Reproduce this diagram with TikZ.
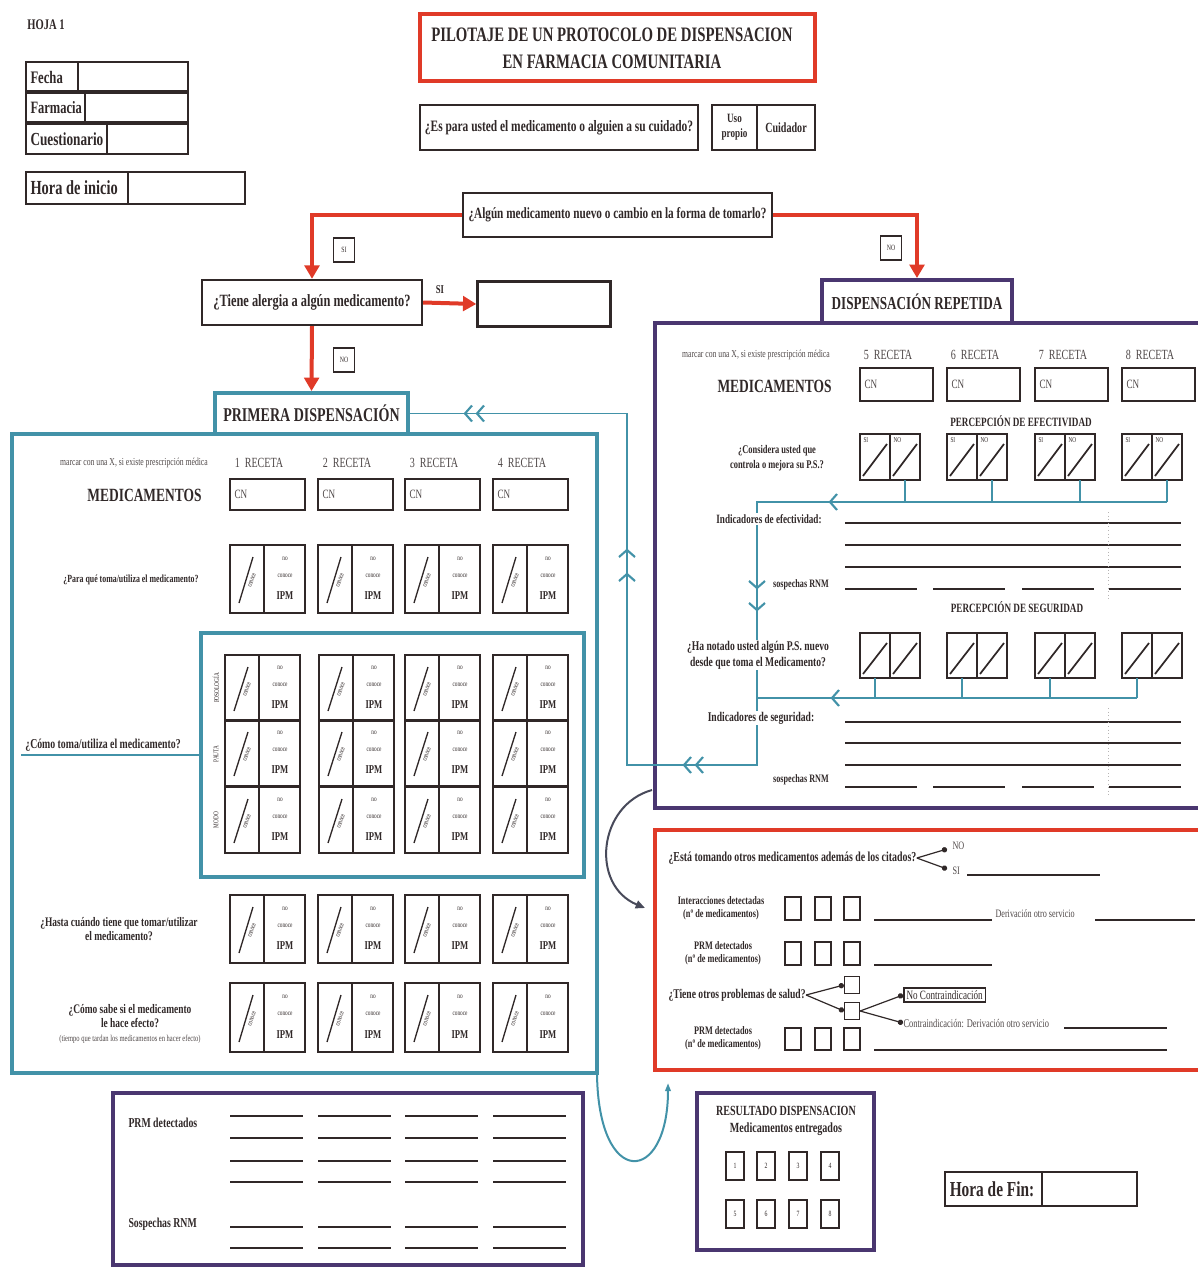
\documentclass[tikz,border=0pt]{standalone}
\usepackage{fontspec}
\setmainfont{Liberation Serif}[FakeStretch=0.72]
\usetikzlibrary{arrows.meta}

\definecolor{formred}{RGB}{224,58,40}
\definecolor{formteal}{RGB}{66,146,168}
\definecolor{formpurple}{RGB}{74,54,112}
\definecolor{formink}{RGB}{48,40,40}
\definecolor{formgray}{RGB}{72,74,90}

\newcommand{\fsz}[2]{\fontsize{#1}{#2}\selectfont}

\tikzset{every picture/.style={line width=0.75pt}}
\tikzset{
	inkbox/.style={draw=formink, line width=1.8pt},
	cellbox/.style={draw=formink, line width=1.3pt},
	redframe/.style={draw=formred, line width=3pt},
	tealframe/.style={draw=formteal, line width=3pt},
	purpleframe/.style={draw=formpurple, line width=3pt},
	flowbox/.style={draw=formink, line width=1.8pt, fill=white, inner sep=0pt, text=formink, font=\bfseries\fsz{11.7}{12}},
	tabbox/.style={line width=3pt, fill=white, inner sep=0pt, text=formink, font=\bfseries\fsz{14}{15}},
	redarrow/.style={draw=formred, line width=3pt, -{Triangle[length=10pt,width=11pt]}},
	tealline/.style={draw=formteal, line width=1.1pt},
	chevron/.style={draw=formteal, line width=1.6pt},
	fieldline/.style={draw=formink, line width=2pt},
	txt/.style={text=formink, inner sep=0pt, font=\bfseries\fsz{10}{11}},
	masktxt/.style={txt, fill=white, inner sep=1pt},
	lighttxt/.style={text=formink!85, inner sep=0pt, font=\fsz{8.5}{9}},
	cellnote/.style={text=formink, inner sep=0pt, font=\fsz{5.5}{6}},
	tagbox/.style={draw=formink, line width=1.2pt, fill=white, inner sep=0pt, minimum width=16pt, minimum height=18pt, text=formink, font=\fsz{6}{7}},
	numbox/.style={draw=formink, line width=1.6pt, inner sep=0pt, minimum width=13.5pt, minimum height=21pt, text=formink, font=\fsz{6}{7}},
	branch/.style={draw=formink, line width=0.9pt, -{Circle[length=4pt]}},
}

% casilla conoce / no conoce / IPM
\newcommand{\ipmcell}[4]{% left, top, height, name
	\draw[cellbox] (#1,#2) rectangle ++(75,#3);
	\draw[cellbox] (#1,#2) ++(34,0) -- ++(0,#3);
	\draw[formink, line width=1pt] (#1,#2) ++(9,#3-10) -- ++(14,-#3+22);
	\path (#1,#2) ++(22,#3*0.52) node[cellnote, rotate=70] (#4-c) {conoce};
	\path (#1,#2) ++(55,#3*0.2) node[cellnote] (#4-n) {no};
	\path (#1,#2) ++(55,#3*0.45) node[cellnote] (#4-k) {conoce};
	\path (#1,#2) ++(55,#3*0.75) node[txt, font=\bfseries\fsz{9}{10}] (#4-i) {IPM};
}
% casilla doble SI / NO
\newcommand{\sinocell}[3]{% left, top, height
	\draw[cellbox] (#1,#2) rectangle ++(60,#3);
	\draw[cellbox] (#1,#2) ++(30,0) -- ++(0,#3);
	\draw[formink, line width=1.3pt] (#1,#2) ++(3,#3-4) -- ++(24,-#3+14);
	\draw[formink, line width=1.3pt] (#1,#2) ++(33,#3-4) -- ++(24,-#3+14);
}
\newcommand{\chevleft}[2]{\draw[chevron] (#1+7,#2-8) -- (#1,#2) -- (#1+7,#2+8);}
\newcommand{\chevdown}[2]{\draw[chevron] (#1-8,#2-7) -- (#1,#2) -- (#1+8,#2-7);}
\newcommand{\chevup}[2]{\draw[chevron] (#1-8,#2+7) -- (#1,#2) -- (#1+8,#2+7);}

\begin{document}
\begin{tikzpicture}[x=0.75pt,y=0.75pt,yscale=-1,xscale=1]
	\useasboundingbox (0,0) rectangle (1197,1268);

	% Cabecera
	\node[txt, anchor=west, font=\bfseries\fsz{11}{12}] (hoja) at (27,25) {HOJA 1};
	\draw[inkbox] (26,62) rectangle (188,91);
	\draw[inkbox] (78,62) -- (78,91);
	\node[txt, anchor=west, font=\bfseries\fsz{13.2}{14}] (fecha) at (30,77) {Fecha};
	\draw[inkbox] (26,93) rectangle (188,122);
	\draw[inkbox] (85,93) -- (85,122);
	\node[txt, anchor=west, font=\bfseries\fsz{13}{14}] (farmacia) at (30,108) {Farmacia};
	\draw[inkbox] (26,124) rectangle (188,154);
	\draw[inkbox] (107,124) -- (107,154);
	\node[txt, anchor=west, font=\bfseries\fsz{13.8}{15}] (cuestionario) at (30,139) {Cuestionario};
	\draw[inkbox] (26,172) rectangle (245,204);
	\draw[inkbox] (128,172) -- (128,204);
	\node[txt, anchor=west, font=\bfseries\fsz{15}{16}] (inicio) at (30,188) {Hora de inicio};

	% Titulo
	\draw[redframe] (420,14) rectangle (815,81);
	\node[txt, align=center, font=\bfseries\fsz{15.4}{20}] (titulo) at (612,48) {PILOTAJE DE UN PROTOCOLO DE DISPENSACION\\EN FARMACIA COMUNITARIA};

	% Text Node
	\node[flowbox, font=\bfseries\fsz{11.9}{13}, minimum width=208.5pt, minimum height=33.75pt] (usted) at (559,127.5) {¿Es para usted el medicamento o alguien a su cuidado?};
	\draw[inkbox] (712,105) rectangle (815,150);
	\draw[inkbox] (757,105) -- (757,150);
	\node[txt, align=center, font=\bfseries\fsz{9.5}{11}] (propio) at (734.5,127.5) {Uso\\propio};
	\node[txt, font=\bfseries\fsz{10.5}{11}] (cuidador) at (786,127.5) {Cuidador};

	% Flujo
	\node[flowbox, minimum width=231.75pt, minimum height=33pt] (nuevo) at (617.5,215) {¿Algún medicamento nuevo o cambio en la forma de tomarlo?};
	\node[flowbox, font=\bfseries\fsz{12.9}{13}, minimum width=165pt, minimum height=33.75pt] (alergia) at (312,302.5) {¿Tiene alergia a algún medicamento?};
	\node[flowbox, minimum width=99.75pt, minimum height=33.75pt] (cualAlergia) at (544,304) {};

	% Marcos
	\draw[tealframe] (12,434) rectangle (597,1073);
	\draw[tealframe, line width=2.5pt] (201,633) rectangle (584,877);
	\draw[purpleframe] (1200,323) -- (655,323) -- (655,808) -- (1200,808);
	\draw[redframe] (1200,830) -- (655,830) -- (655,1070) -- (1200,1070);

	\node[tabbox, draw=formteal, font=\bfseries\fsz{14.6}{15}, minimum width=144.75pt, minimum height=30.75pt] (primera) at (311.5,413.5) {PRIMERA DISPENSACIÓN};
	\node[tabbox, draw=formpurple, font=\bfseries\fsz{13.7}{14}, minimum width=142.5pt, minimum height=32.25pt] (repetida) at (917,301.5) {DISPENSACIÓN REPETIDA};

	\draw[redarrow] (nuevo.west) -| (alergia.north);
	\draw[redarrow] (nuevo.east) -| (repetida.north);
	\draw[redarrow] (alergia.east) -- (cualAlergia.west);
	\draw[redarrow] (alergia.south) -- (primera.north);
	\node[tagbox] (siNuevo) at (344,250) {SI};
	\node[tagbox] (noNuevo) at (891,248) {NO};
	\node[tagbox] (noAlergia) at (344,360) {NO};
	\node[txt, font=\bfseries\fsz{9}{10}] (siAlergia) at (440,290) {SI};

	% PRIMERA DISPENSACION
	\node[lighttxt, font=\fsz{8}{9}] (marcarA) at (134,463) {marcar con una X, si existe prescripción médica};
	\node[txt, anchor=east, font=\bfseries\fsz{14}{15}] (medsA) at (202,495) {MEDICAMENTOS};
	\foreach \l/\n in {230/1,318/2,405/3,493/4} {
		\node[lighttxt, font=\fsz{10.5}{11}] (receta\n) at (\l+29,463) {\n\ \ RECETA};
		\draw[inkbox] (\l,479) rectangle ++(75,31);
		\node[lighttxt, anchor=west, font=\fsz{9.5}{10}] (cn\n) at (\l+4,494) {CN};
		\ipmcell{\l}{545}{68}{para\n}
		\ipmcell{\l}{895}{68}{hasta\n}
		\ipmcell{\l}{983}{69}{efecto\n}
	}
	\foreach \l/\n in {225/1,319/2,405/3,493/4} {
		\foreach \r/\m in {655/1,720/2,787/3} {
			\ipmcell{\l}{\r}{66}{como\n\m}
		}
	}
	\node[cellnote, rotate=90] (posologia) at (216,688) {POSOLOGÍA};
	\node[cellnote, rotate=90] (pauta) at (216,754) {PAUTA};
	\node[cellnote, rotate=90] (modo) at (216,820) {MODO};

	\node[txt, font=\bfseries\fsz{8.2}{9}] (paraQue) at (131,580) {¿Para qué toma/utiliza el medicamento?};
	\node[txt, font=\bfseries\fsz{10.2}{11}] (comoToma) at (103,745) {¿Cómo toma/utiliza el medicamento?};
	\coordinate (gridIn) at (201,755);
	\draw[formteal, line width=2pt] (21,755) -- (gridIn);
	\node[txt, align=center, font=\bfseries\fsz{9.8}{11}] (hasta) at (119,929) {¿Hasta cuándo tiene que tomar/utilizar\\el medicamento?};
	\node[txt, align=center, font=\bfseries\fsz{9.8}{11}] (sabe) at (130,1016) {¿Cómo sabe si el medicamento\\le hace efecto?};
	\node[lighttxt, font=\fsz{6.8}{7}] (tiempo) at (130,1039) {(tiempo que tardan los medicamentos en hacer efecto)};

	% DISPENSACION REPETIDA
	\node[lighttxt, font=\fsz{8}{9}] (marcarB) at (756,355) {marcar con una X, si existe prescripción médica};
	\node[txt, anchor=east, font=\bfseries\fsz{14}{15}] (medsB) at (832,386) {MEDICAMENTOS};
	\foreach \l/\n in {860/5,947/6,1035/7,1122/8} {
		\node[lighttxt, font=\fsz{10.5}{11}] (receta\n) at (\l+28,355) {\n\ \ RECETA};
		\draw[inkbox] (\l,368) rectangle ++(73,33);
		\node[lighttxt, anchor=west, font=\fsz{9.5}{10}] (cn\n) at (\l+4,384) {CN};
		\sinocell{\l}{434}{46}
		\node[cellnote, anchor=north west] (si\n) at (\l+3,437) {SI};
		\node[cellnote, anchor=north west] (no\n) at (\l+33,437) {NO};
		\draw[tealline] (\l+45,480) -- (\l+45,502);
		\sinocell{\l}{633}{45}
		\draw[tealline] (\l+15,678) -- (\l+15,698);
	}
	\node[txt, font=\bfseries\fsz{9.5}{10}] (percEf) at (1021,421) {PERCEPCIÓN DE EFECTIVIDAD};
	\node[txt, align=center, font=\bfseries\fsz{8.8}{11}] (considera) at (777,458) {¿Considera usted que\\controla o mejora su P.S.?};
	\node[txt, font=\bfseries\fsz{9.5}{10}] (percSeg) at (1017,607) {PERCEPCIÓN DE SEGURIDAD};

	\foreach \y in {523,545,567,722,743,765} \draw[fieldline] (845,\y) -- (1181,\y);
	\foreach \y in {589,787} \foreach \a/\b in {845/917,933/1005,1022/1094,1109/1181} \draw[fieldline] (\a,\y) -- (\b,\y);
	\draw[formink!35, line width=0.7pt, dotted] (1108,512) -- (1108,600);
	\draw[formink!35, line width=0.7pt, dotted] (1108,708) -- (1108,795);

	% Retorno a primera dispensacion
	\coordinate (efR) at (1167,502);
	\coordinate (efL) at (757,502);
	\coordinate (seR) at (1137,698);
	\coordinate (seL) at (757,698);
	\coordinate (vuelta) at (757,765);
	\coordinate (subida) at (627,765);
	\draw[tealline] (efR) -- (efL) -- (vuelta) -- (subida) |- (primera.east);
	\draw[tealline] (seR) -- (seL);
	\chevleft{830}{502}
	\chevleft{832}{698}
	\chevdown{757}{588}
	\chevdown{757}{610}
	\chevleft{684}{765}
	\chevleft{696}{765}
	\chevup{627}{550}
	\chevup{627}{574}
	\chevleft{465}{413.5}
	\chevleft{477}{413.5}

	\node[masktxt, font=\bfseries\fsz{9.5}{10}] (indEf) at (769,519) {Indicadores de efectividad:};
	\node[masktxt, font=\bfseries\fsz{8.5}{9}] (sospA) at (801,585) {sospechas RNM};
	\node[masktxt, align=center, font=\bfseries\fsz{10}{12}] (haNotado) at (758,655) {¿Ha notado usted algún P.S. nuevo\\desde que toma el Medicamento?};
	\node[masktxt, font=\bfseries\fsz{10}{11}] (indSeg) at (761,718) {Indicadores de seguridad:};
	\node[masktxt, font=\bfseries\fsz{8.5}{9}] (sospB) at (801,780) {sospechas RNM};

	% Otros medicamentos
	\node[txt, anchor=west, font=\bfseries\fsz{10.3}{11}] (otros) at (668,858) {¿Está tomando otros medicamentos además de los citados?};
	\coordinate (otrosNo) at (947,849);
	\coordinate (otrosSi) at (947,869);
	\draw[branch] (otros.east) -- (otrosNo);
	\draw[branch] (otros.east) -- (otrosSi);
	\node[lighttxt, anchor=west] (noTxt) at (952,846) {NO};
	\node[lighttxt, anchor=west] (siTxt) at (952,871) {SI};
	\draw[fieldline] (967,875) -- (1100,875);

	\node[txt, align=center, font=\bfseries\fsz{8.6}{9.5}] (interacciones) at (721,908) {Interacciones detectadas\\(nº de medicamentos)};
	\node[txt, align=center, font=\bfseries\fsz{8.6}{9.5}] (prmA) at (723,953) {PRM detectados\\(nº de medicamentos)};
	\node[txt, align=center, font=\bfseries\fsz{8.6}{9.5}] (prmC) at (723,1038) {PRM detectados\\(nº de medicamentos)};
	\foreach \x in {785,815,844} {
		\draw[inkbox] (\x,897) rectangle ++(16,23);
		\draw[inkbox] (\x,942) rectangle ++(16,23);
		\draw[inkbox] (\x,1028) rectangle ++(16,22);
	}
	\draw[fieldline] (874,920) -- (992,920);
	\node[lighttxt, anchor=west] (derivA) at (995,914) {Derivación otro servicio};
	\draw[fieldline] (1095,920) -- (1195,920);
	\draw[fieldline] (874,965) -- (992,965);

	\node[txt, anchor=west, font=\bfseries\fsz{10}{11}] (salud) at (668,995) {¿Tiene otros problemas de salud?};
	\node[tagbox, minimum width=11pt, minimum height=13pt] (saludNo) at (852,985) {};
	\node[tagbox, minimum width=11pt, minimum height=13pt] (saludSi) at (852,1011) {};
	\draw[branch] (salud.east) -- (saludNo.west);
	\draw[branch] (salud.east) -- (saludSi.west);
	\node[txt, draw=formink, line width=1.3pt, inner sep=2pt, anchor=west, font=\fsz{9.5}{10}] (noContra) at (903,995) {No Contraindicación};
	\node[lighttxt, anchor=west, font=\fsz{8.8}{9}] (contra) at (903,1023) {Contraindicación: Derivación otro servicio};
	\draw[branch] (saludSi.east) -- (noContra.west);
	\draw[branch] (saludSi.east) -- (contra.west);
	\draw[fieldline] (1064,1028) -- (1167,1028);
	\draw[fieldline] (874,1050) -- (1167,1050);

	% Flechas curvas
	\coordinate (repOut) at (652,790);
	\coordinate (otrosIn) at (645,908);
	\draw[formgray, line width=1.5pt, -{Triangle[length=7pt,width=6pt]}] (repOut) .. controls (598,805) and (590,885) .. (otrosIn);
	\coordinate (primOut) at (597,1073);
	\coordinate (resIn) at (668,1083);
	\draw[formteal, line width=1.5pt, -{Triangle[length=6pt,width=4pt]}] (primOut) .. controls (598,1190) and (668,1185) .. (resIn);

	% PRM detectados / Sospechas RNM
	\draw[purpleframe] (113,1093) rectangle (583,1265);
	\node[txt, anchor=west, font=\bfseries\fsz{10.2}{11}] (prmB) at (128,1123) {PRM detectados};
	\node[txt, anchor=west, font=\bfseries\fsz{10.2}{11}] (sospC) at (128,1224) {Sospechas RNM};
	\foreach \y in {1116,1138,1161,1182,1227,1248} \foreach \a in {230,318,405,493} \draw[fieldline] (\a,\y) -- ++(73,0);

	% Resultado
	\draw[purpleframe] (697,1093) rectangle (874,1250);
	\node[txt, align=center, font=\bfseries\fsz{10.5}{13}] (resultado) at (786,1121) {RESULTADO DISPENSACION\\Medicamentos entregados};
	\foreach \x/\n in {726/1,757/2,789/3,821/4} \node[numbox] (res\n) at (\x+9,1166) {\n};
	\foreach \x/\n in {726/5,757/6,789/7,821/8} \node[numbox] (res\n) at (\x+9,1214) {\n};

	% Hora de fin
	\draw[inkbox] (945,1172) rectangle (1137,1206);
	\draw[inkbox] (1042,1172) -- (1042,1206);
	\node[txt, font=\bfseries\fsz{16}{17}] (fin) at (992,1189) {Hora de Fin:};

\end{tikzpicture}
\end{document}
